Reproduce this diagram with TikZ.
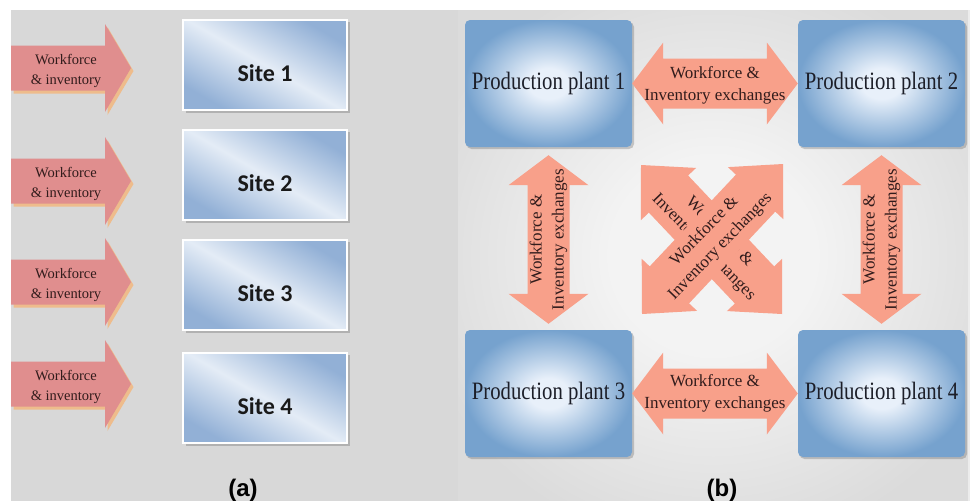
\documentclass[tikz,border=0pt]{standalone}
\usepackage{fontspec}
\setmainfont{Liberation Serif}
\newfontfamily\sitefont{Carlito}
\newfontfamily\capfont{Liberation Sans}
\newfontfamily\serifarrow{Liberation Serif}
\usetikzlibrary{calc}

\definecolor{bggray}{RGB}{216,216,216}
\definecolor{panelin}{RGB}{243,243,243}
\definecolor{panelout}{RGB}{219,219,219}
\definecolor{sitedark}{RGB}{146,176,214}
\definecolor{sitelight}{RGB}{228,236,246}
\definecolor{inarrowfill}{RGB}{224,142,142}
\definecolor{inarrowshadow}{RGB}{238,188,140}
\definecolor{plantout}{RGB}{118,162,206}
\definecolor{plantin}{RGB}{232,240,250}
\definecolor{xarrowfill}{RGB}{248,160,138}
\definecolor{arrowtext}{RGB}{50,28,28}
\definecolor{planttext}{RGB}{28,30,40}

\pgfdeclareradialshading{plantshading}{\pgfpoint{0bp}{0bp}}{color(0bp)=(plantin); color(6bp)=(plantin); color(25bp)=(plantout); color(50bp)=(plantout)}
\pgfdeclareradialshading{panelshading}{\pgfpoint{0bp}{0bp}}{color(0bp)=(panelin); color(10bp)=(panelin); color(30bp)=(panelout); color(50bp)=(panelout)}

% double block arrow between two tips: #1,#2 tips; #3 head length; #4 head half width; #5 body half width; #6 style
\newcommand\DblArrow[6]{%
  \fill[#6] (#1) -- ($(#1)!#3!(#2)!#4!90:(#2)$) -- ($(#1)!#3!(#2)!#5!90:(#2)$)
    -- ($(#2)!#3!(#1)!#5!-90:(#1)$) -- ($(#2)!#3!(#1)!#4!-90:(#1)$) -- (#2)
    -- ($(#2)!#3!(#1)!#4!90:(#1)$) -- ($(#2)!#3!(#1)!#5!90:(#1)$)
    -- ($(#1)!#3!(#2)!#5!-90:(#2)$) -- ($(#1)!#3!(#2)!#4!-90:(#2)$) -- cycle;%
}

\tikzset{
  sitebox/.style={draw=white, line width=1.6pt, minimum width=164pt, minimum height=90pt, inner sep=0pt,
    top color=sitedark, bottom color=sitedark, middle color=sitelight, shading angle=-30},
  sitelabel/.style={font=\sitefont\bfseries\fontsize{24}{28}\selectfont, text=black!90},
  plantbox/.style={shade, shading=plantshading, rounded corners=5pt, minimum width=167pt, minimum height=127pt, inner sep=0pt},
  planttextstyle/.style={font=\serifarrow\fontsize{25}{30}\selectfont, text=planttext, xscale=0.83},
  intext/.style={font=\serifarrow\fontsize{14.5}{20}\selectfont, align=center, text=arrowtext},
  xtext/.style={font=\serifarrow\fontsize{17}{22}\selectfont, align=center, text=arrowtext},
  captionstyle/.style={font=\capfont\bfseries\fontsize{24}{28}\selectfont, text=black},
  boxshadow/.style={fill=black, opacity=0.18},
  xarrow/.style={fill=xarrowfill}
}

\begin{document}
\begin{tikzpicture}[x=1pt,y=-1pt]
\useasboundingbox (0,0) rectangle (970,501);
\fill[white] (0,0) rectangle (970,501);
\fill[bggray] (11,10) rectangle (970,501);
\shade[shading=panelshading] (458,10) rectangle (968,501);
\fill[white!50!bggray] (968,10) rectangle (970,501);

% ---------- panel (a) ----------
\foreach \i/\cy in {1/65,2/175,3/285,4/398} {
  \fill[boxshadow] (186,\cy-43) rectangle (350,\cy+48);
  \node[sitebox] (site\i) at (265,\cy) {};
  \node[sitelabel] (sitelab\i) at (265,\cy+8) {Site \i};
}
\foreach \i/\cy in {1/68,2/181,3/282,4/384} {
  \begin{scope}[shift={(11,\cy)}]
    \fill[inarrowshadow] (2.5,-19.5) -- (96.5,-19.5) -- (96.5,-41) -- (122.5,3) -- (96.5,47) -- (96.5,25.5) -- (2.5,25.5) -- cycle;
    \fill[inarrowfill] (0,-22.5) -- (94,-22.5) -- (94,-44) -- (120,0) -- (94,44) -- (94,22.5) -- (0,22.5) -- cycle;
  \end{scope}
  \node[intext] (win\i) at (66,\cy+3) {Workforce\\\& inventory};
}
\node[captionstyle] (capa) at (243,490) {(a)};

% ---------- panel (b) ----------
\foreach \i/\cx/\cy in {1/548.5/83.5,2/881.5/83.5,3/548.5/393.5,4/881.5/393.5} {
  \fill[boxshadow, rounded corners=5pt] (\cx-82,\cy-61.5) rectangle (\cx+85.5,\cy+65.5);
  \node[plantbox] (p\i) at (\cx,\cy) {};
  \node[planttextstyle] (pt\i) at (\cx,\cy) {Production plant \i};
}

\coordinate (v1a) at ($(p1.south)+(0,8)$);
\coordinate (v1b) at ($(p3.north)+(0,-6)$);
\coordinate (v2a) at ($(p2.south)+(0,8)$);
\coordinate (v2b) at ($(p4.north)+(0,-6)$);
\coordinate (xa1) at (642,314);
\coordinate (xa2) at (783,164);
\coordinate (xb1) at (641,165);
\coordinate (xb2) at (782,314);

\DblArrow{p1.east}{p2.west}{31pt}{41pt}{25pt}{xarrow}
\node[xtext] (t12) at ($(p1.east)!0.5!(p2.west)+(0,2)$) {Workforce \&\\Inventory exchanges};
\DblArrow{p3.east}{p4.west}{31pt}{41pt}{25pt}{xarrow}
\node[xtext] (t34) at ($(p3.east)!0.5!(p4.west)$) {Workforce \&\\Inventory exchanges};

\DblArrow{v1a}{v1b}{30pt}{40pt}{21pt}{xarrow}
\node[xtext, rotate=90] (t13) at ($(v1a)!0.5!(v1b)$) {Workforce \&\\Inventory exchanges};
\DblArrow{v2a}{v2b}{30pt}{40pt}{21pt}{xarrow}
\node[xtext, rotate=90] (t24) at ($(v2a)!0.5!(v2b)$) {Workforce \&\\Inventory exchanges};

\DblArrow{xb1}{xb2}{40pt}{38pt}{27pt}{xarrow}
\node[xtext, rotate=-46] (tB) at ($(xb1)!0.5!(xb2)$) {Workforce \&\\Inventory exchanges};
\DblArrow{xa1}{xa2}{40pt}{38pt}{27pt}{xarrow}
\node[xtext, rotate=46] (tA) at ($(xa1)!0.5!(xa2)$) {Workforce \&\\Inventory exchanges};

\node[captionstyle] (capb) at (722,490) {(b)};
\end{tikzpicture}
\end{document}
